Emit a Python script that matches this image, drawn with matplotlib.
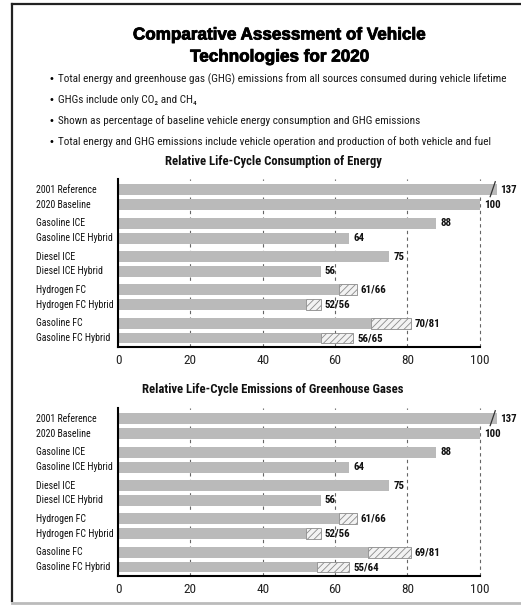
import matplotlib
matplotlib.use("Agg")
import matplotlib.pyplot as plt
from matplotlib.lines import Line2D
import matplotlib.transforms as mtransforms
import matplotlib.patheffects as pe
from matplotlib import font_manager as fm

# ---------------- data ----------------
categories = ["2001 Reference", "2020 Baseline", "Gasoline ICE", "Gasoline ICE Hybrid",
              "Diesel ICE", "Diesel ICE Hybrid", "Hydrogen FC", "Hydrogen FC Hybrid",
              "Gasoline FC", "Gasoline FC Hybrid"]
energy_low = [137, 100, 88, 64, 75, 56, 61, 52, 70, 56]
energy_high = [137, 100, 88, 64, 75, 56, 66, 56, 81, 65]
ghg_low = [137, 100, 88, 64, 75, 56, 61, 52, 69, 55]
ghg_high = [137, 100, 88, 64, 75, 56, 66, 56, 81, 64]
x_ticks = [0, 20, 40, 60, 80, 100]

title_lines = ["Comparative Assessment of Vehicle", "Technologies for 2020"]
bullets = [
    "Total energy and greenhouse gas (GHG) emissions from all sources consumed during vehicle lifetime",
    "GHGs include only CO\u2082 and CH\u2084",
    "Shown as percentage of baseline vehicle energy consumption and GHG emissions",
    "Total energy and GHG emissions include vehicle operation and production of both vehicle and fuel",
]
chart_titles = ["Relative Life-Cycle Consumption of Energy",
                "Relative Life-Cycle Emissions of Greenhouse Gases"]

# ---------------- fonts ----------------
available = {f.name for f in fm.fontManager.ttflist}
cond_candidates = ["Roboto Condensed", "Archivo Narrow", "PT Sans Narrow",
                   "Fira Sans Condensed", "IBM Plex Sans Condensed",
                   "Barlow Semi Condensed", "Sofia Sans Condensed",
                   "Liberation Sans Narrow", "Roboto"]
COND = next((c for c in cond_candidates if c in available), "DejaVu Sans")
NARROW = [COND, "DejaVu Sans"]
plt.rcParams["font.family"] = NARROW
plt.rcParams["hatch.linewidth"] = 0.6
plt.rcParams["hatch.color"] = "#8a8a8a"

W, H = 521, 606
fig = plt.figure(figsize=(W / 100, H / 100), dpi=100)
fig.patch.set_facecolor("white")


def fx(px):
    return px / W


def fy(py):
    return 1 - py / H


# frame
fig.add_artist(Line2D([fx(12), fx(12)], [fy(4), fy(601)], color="#222222", lw=1.6))
fig.add_artist(Line2D([fx(12), fx(521)], [fy(4), fy(4)], color="#222222", lw=1.6))
fig.add_artist(Line2D([fx(12), fx(521)], [fy(603), fy(603)], color="#bbbbbb", lw=2.0))

# main title
TFONT = ["Liberation Sans", "DejaVu Sans"]
heavy = [pe.withStroke(linewidth=0.6, foreground="black")]
fig.text(fx(280), fy(35), title_lines[0], ha="center", va="center",
         fontsize=12.3, fontweight="bold", family=TFONT, path_effects=heavy)
fig.text(fx(280), fy(57), title_lines[1], ha="center", va="center",
         fontsize=12.3, fontweight="bold", family=TFONT, path_effects=heavy)

# bullets
bullet_y = [79, 100, 121, 142]
for by, txt in zip(bullet_y, bullets):
    fig.text(fx(49), fy(by), "\u2022", ha="left", va="center", fontsize=7,
             family=["DejaVu Sans"])
    fig.text(fx(57.5), fy(by), txt, ha="left", va="center", fontsize=8.15,
             color="#1a1a1a")

BAR_COLOR = "#bababa"
XMAX = 105.0
BREAK_END = 104.7


def draw_chart(ax_top_px, title_px, low, high, title):
    ax_bottom_px = ax_top_px + 168
    ax = fig.add_axes([fx(118), fy(ax_bottom_px), fx(118 + XMAX * 3.617) - fx(118),
                       168 / H])
    n = len(categories)
    ypos = [(i // 2) * 2.233 + (i % 2) for i in range(n)]
    ax.set_xlim(0, XMAX)
    ax.set_ylim(ypos[-1] + 0.6, ypos[0] - 0.733)

    for xt in x_ticks[1:]:
        ax.axvline(xt, color="#666666", lw=0.8, ls=(0, (3, 3)), zorder=0)

    for y, lo, hi in zip(ypos, low, high):
        lo_d = min(lo, BREAK_END)
        ax.barh(y, lo_d, height=0.73, color=BAR_COLOR, edgecolor="none",
                zorder=2, clip_on=False)
        if hi > lo:
            ax.barh(y, hi - lo, left=lo, height=0.73, color="#f2f2f2",
                    edgecolor="#8a8a8a", lw=0.6, hatch="/////", zorder=2)
        if lo > 100:
            xs = 103.6
            ax.plot([xs - 0.7, xs + 0.7], [y + 0.45, y - 0.55], color="#333333",
                    lw=0.9, zorder=4, clip_on=False)
            label = f"{lo}"
            lx = BREAK_END + 0.9
        elif hi > lo:
            label = f"{lo}/{hi}"
            lx = hi + 1.1
        else:
            label = f"{lo}"
            lx = lo + 1.1
        ax.text(lx, y, label, ha="left", va="center", fontsize=7.8,
                fontweight="bold", color="#111111", clip_on=False)

    for side in ["top", "right"]:
        ax.spines[side].set_visible(False)
    ax.spines["left"].set_linewidth(1.5)
    ax.spines["bottom"].set_linewidth(1.5)
    ax.spines["bottom"].set_bounds(0, 100)
    ax.set_yticks([])
    ax.set_xticks(x_ticks)
    ax.set_xticklabels([str(t) for t in x_ticks], fontsize=9.5, color="#222222")
    ax.tick_params(axis="x", length=0, pad=5)
    ax.patch.set_alpha(0)

    trans = mtransforms.blended_transform_factory(fig.transFigure, ax.transData)
    for y, cat in zip(ypos, categories):
        fig.text(fx(36), y, cat, transform=trans, ha="left", va="center",
                 fontsize=7.1, color="#111111")

    fig.text(fx(273), fy(title_px), title, ha="center", va="center",
             fontsize=9.1, fontweight="bold", color="#111111")
    return ax


draw_chart(179, 162, energy_low, energy_high, chart_titles[0])
draw_chart(408, 390, ghg_low, ghg_high, chart_titles[1])

fig.savefig("out.png", dpi=100, facecolor="white")
